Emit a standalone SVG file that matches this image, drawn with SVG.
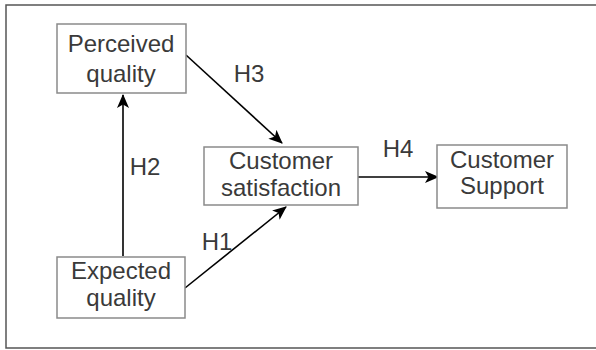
<svg xmlns="http://www.w3.org/2000/svg" width="596" height="350" viewBox="0 0 596 350">
<style>
.box{fill:#fff;stroke:#8a8a8a;stroke-width:1.5}
.t{font-family:"Liberation Sans",Arial,sans-serif;font-size:24px;fill:#3a3a3a;text-anchor:middle}
.e{stroke:#000;stroke-width:1.6;fill:none;marker-end:url(#ah)}
</style>
<defs>
<marker id="ah" viewBox="0 0 14 12" refX="13" refY="6" markerWidth="14" markerHeight="12" markerUnits="userSpaceOnUse" orient="auto">
<path d="M0,0 L14,6 L0,12 L3.5,6 z" fill="#000"/>
</marker>
</defs>
<rect x="0" y="0" width="596" height="350" fill="#fff"/>
<rect x="6" y="5" width="600" height="343" fill="none" stroke="#555" stroke-width="1.5"/>
<g id="connectors">
<line class="e" x1="123" y1="256" x2="123" y2="95"/>
<line class="e" x1="186" y1="55" x2="282" y2="143"/>
<line class="e" x1="185" y1="288" x2="286" y2="207"/>
<line class="e" x1="358" y1="177" x2="438" y2="177"/>
<text class="t" x="249" y="82">H3</text>
<text class="t" x="145" y="175">H2</text>
<text class="t" x="217" y="250">H1</text>
<text class="t" x="398" y="157">H4</text>
</g>
<g id="perceived">
<rect class="box" x="57" y="24" width="129" height="69"/>
<text class="t" x="121" y="52">Perceived</text>
<text class="t" x="121" y="82">quality</text>
</g>
<g id="expected">
<rect class="box" x="57" y="257" width="128" height="61"/>
<text class="t" x="121" y="279">Expected</text>
<text class="t" x="121" y="306">quality</text>
</g>
<g id="satisfaction">
<rect class="box" x="204" y="147" width="154" height="58"/>
<text class="t" x="281" y="169">Customer</text>
<text class="t" x="281" y="196">satisfaction</text>
</g>
<g id="support">
<rect class="box" x="437" y="145" width="130" height="63"/>
<text class="t" x="502" y="168">Customer</text>
<text class="t" x="502" y="194">Support</text>
</g>
</svg>
